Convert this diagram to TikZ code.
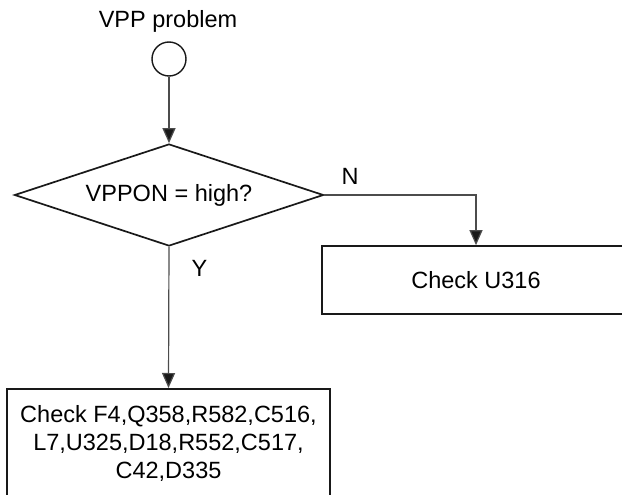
\documentclass[tikz,border=0pt]{standalone}
\usepackage{fontspec}
\setmainfont{Liberation Sans}
\usetikzlibrary{shapes.geometric,arrows.meta}
\begin{document}
\begin{tikzpicture}[x=1pt,y=-1pt,font=\fontsize{23.5}{28}\selectfont,
  box/.style={draw=black!90,line width=1.7pt,rectangle,inner sep=0pt},
  cond/.style={draw=black!90,line width=1.7pt,diamond,aspect=3.03,minimum width=309pt,minimum height=102pt,inner sep=0pt},
  flow/.style={draw=black!70,line width=1.2pt,-{Triangle[length=15pt,width=13pt,fill=black!90]}},
  lbl/.style={inner sep=0pt}]
\useasboundingbox (0,0) rectangle (622,495);
\clip (0,0) rectangle (622,495);
\node[lbl] (title) at (168,21) {VPP problem};
\node[draw=black!90,line width=1.4pt,circle,minimum size=34pt,inner sep=0pt] (start) at (169,59) {};
\node[cond] (q) at (169,195) {VPPON = high?};
\node[box,minimum width=308pt,minimum height=68pt] (u316) at (476,280) {Check U316};
\node[box,anchor=north,minimum width=323pt,inner ysep=17pt,align=center] (fix) at (168.5,388)
  {Check F4,Q358,R582,C516,\\L7,U325,D18,R552,C517,\\C42,D335};
\draw[flow] (start) -- (q);
\draw[flow] (q.east) -| node[lbl,pos=0.085,above=9.5pt] {N} (u316.north);
\draw[flow] (q.south) -- node[lbl,pos=0.155,right=22pt] {Y} (fix.north);
\end{tikzpicture}
\end{document}
